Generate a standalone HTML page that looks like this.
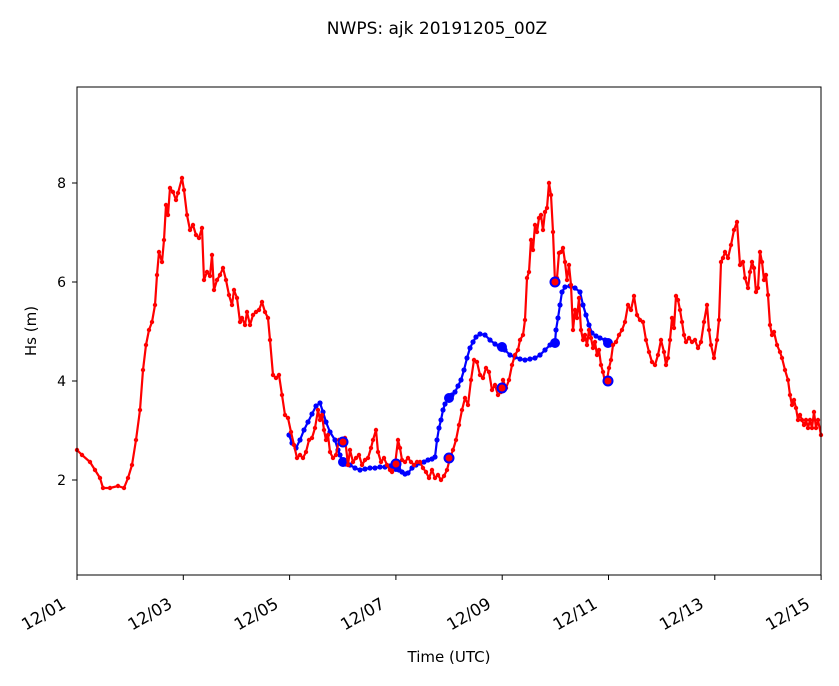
<!DOCTYPE html>
<html><head><meta charset="utf-8"><style>
body{margin:0;background:#fff;}
svg text{font-family:"DejaVu Sans","Liberation Sans",sans-serif;fill:#000}
</style></head><body>
<svg id="s" width="839" height="681" xmlns="http://www.w3.org/2000/svg">
<text x="437" y="34" font-size="17" text-anchor="middle">NWPS: ajk 20191205_00Z</text>
<g id="plot"></g>
<rect x="77" y="87" width="744" height="488" fill="none" stroke="#000" stroke-width="1"/>
<g font-size="14" text-anchor="end">
<text x="66" y="188">8</text><text x="66" y="287">6</text><text x="66" y="386">4</text><text x="66" y="485">2</text>
</g>
<g stroke="#000"><line x1="72" x2="77" y1="183" y2="183"/><line x1="72" x2="77" y1="282" y2="282"/><line x1="72" x2="77" y1="381" y2="381"/><line x1="72" x2="77" y1="480" y2="480"/></g>
<g id="xt" font-size="16.5" text-anchor="end"></g>
<text x="449" y="662" font-size="15" text-anchor="middle">Time (UTC)</text>
<text transform="translate(36,331) rotate(-90)" font-size="15" text-anchor="middle">Hs (m)</text>
</svg>
<script>
var NS="http://www.w3.org/2000/svg";
function el(t,a,p){var e=document.createElementNS(NS,t);for(var k in a)e.setAttribute(k,a[k]);p.appendChild(e);return e;}
var xt=document.getElementById("xt"),svg=document.getElementById("s");
var labs=["12/01","12/03","12/05","12/07","12/09","12/11","12/13","12/15"];
for(var i=0;i<8;i++){var x=77+i*106.3;el("line",{x1:x,x2:x,y1:575,y2:580,stroke:"#000"},svg);
var tx=x-10,ty=607;var t=el("text",{x:tx,y:ty,transform:"rotate(-30 "+tx+" "+ty+")"},xt);t.textContent=labs[i];}
var P=document.getElementById("plot");
var red=[[77,450],[82,455],[90,462],[95,470],[100,478],[103,488],[110,488],[118,486],[124,488],[128,478],[132,465],[136,440],[140,410],[143,370],[146,345],[149,330],[152,322],[155,305],[157,275],[159,252],[162,262],[164,240],[166,205],[168,215],[170,188],[173,192],[176,200],[178,193],[182,178],[184,190],[187,215],[190,230],[193,225],[196,235],[199,238],[202,228],[204,280],[207,272],[210,276],[212,255],[214,290],[217,280],[220,275],[223,268],[226,280],[229,295],[232,305],[234,290],[237,298],[240,322],[242,318],[245,325],[247,312],[250,325],[253,315],[256,312],[259,310],[262,302],[265,312],[268,318],[270,340],[273,375],[276,378],[279,375],[282,395],[285,415],[288,418],[291,432],[294,445],[297,458],[300,455],[303,458],[306,452],[309,440],[312,438],[315,428],[318,410],[320,420],[322,415],[324,430],[326,440],[328,435],[330,452],[333,458],[336,455],[339,440],[342,445],[345,438],[348,465],[350,450],[353,462],[356,458],[359,455],[362,465],[365,460],[368,458],[371,448],[373,440],[376,430],[378,452],[381,462],[384,458],[387,465],[390,470],[392,472],[395,465],[398,440],[400,448],[402,460],[405,462],[408,458],[411,462],[414,465],[417,462],[420,462],[423,468],[426,472],[429,478],[432,470],[435,478],[438,475],[441,480],[444,476],[447,470],[450,458],[453,450],[456,440],[459,425],[462,410],[465,398],[468,405],[471,380],[474,360],[477,362],[480,375],[483,378],[486,368],[489,372],[492,390],[495,385],[498,395],[501,392],[503,380],[506,388],[509,380],[512,365],[515,355],[518,350],[520,340],[523,335],[525,320],[527,278],[529,272],[531,240],[533,250],[535,225],[537,232],[539,218],[541,215],[543,230],[545,212],[547,208],[549,183],[551,195],[553,232],[555,282],[557,278],[559,253],[561,252],[563,248],[565,262],[567,280],[569,265],[571,285],[573,330],[575,310],[577,318],[579,298],[581,330],[583,340],[585,335],[587,345],[589,330],[591,338],[593,348],[595,342],[597,355],[599,350],[601,365],[603,372],[605,382],[607,380],[609,368],[611,360],[613,345],[616,342],[619,335],[622,330],[625,322],[628,305],[631,310],[634,296],[637,315],[640,320],[643,322],[646,340],[649,352],[652,362],[655,365],[658,355],[661,340],[664,352],[666,365],[668,358],[670,340],[672,318],[674,328],[676,296],[678,300],[680,310],[682,322],[684,335],[686,342],[689,338],[692,342],[695,340],[698,348],[701,342],[704,322],[707,305],[709,330],[711,345],[714,358],[717,340],[719,320],[721,262],[723,258],[725,252],[728,258],[731,245],[734,230],[737,222],[740,265],[743,262],[745,278],[748,288],[750,272],[752,262],[754,268],[756,292],[758,288],[760,252],[762,262],[764,280],[766,275],[768,295],[770,325],[772,335],[774,332],[777,345],[780,352],[782,358],[785,370],[788,380],[790,395],[792,405],[794,400],[796,408],[798,420],[800,415],[802,420],[804,425],[806,420],[808,428],[810,420],[812,428],[814,412],[816,428],[818,420],[821,435]];
var blue=[[289,435],[292,443],[296,448],[300,440],[304,430],[308,422],[312,414],[316,406],[320,403],[323,412],[326,422],[330,432],[335,440],[338,450],[340,455],[343,462],[346,464],[350,465],[355,468],[360,470],[365,469],[370,468],[375,468],[380,467],[385,467],[390,466],[396,467],[399,470],[402,472],[405,474],[408,473],[412,468],[416,465],[420,463],[424,462],[428,460],[432,459],[435,457],[437,440],[439,428],[441,420],[443,410],[445,404],[449,398],[452,395],[455,392],[458,386],[461,380],[464,370],[467,358],[470,348],[473,342],[476,337],[480,334],[485,335],[490,340],[495,344],[499,346],[502,347],[505,350],[510,355],[515,357],[520,359],[525,360],[530,359],[535,358],[540,355],[545,350],[550,345],[553,343],[555,343],[556,330],[558,318],[560,305],[562,292],[565,287],[570,286],[575,288],[580,292],[583,305],[586,315],[589,325],[592,333],[596,336],[600,338],[605,340],[609,343]];
function line(pts,c,r){el("polyline",{points:pts.map(p=>p.join(",")).join(" "),fill:"none",stroke:c,"stroke-width":2.2,"stroke-linejoin":"round"},P);
pts.forEach(p=>el("circle",{cx:p[0],cy:p[1],r:r,fill:c},P));}
line(blue,"#0000ff",2.6);
[[343,462],[396,467],[449,398],[502,347],[555,343],[608,343]].forEach(p=>el("circle",{cx:p[0],cy:p[1],r:5,fill:"#0000ff"},P));
line(red,"#ff0000",2.2);
[[343,442],[396,464],[449,458],[502,388],[555,282],[608,381]].forEach(p=>el("circle",{cx:p[0],cy:p[1],r:4.5,fill:"#ff0000",stroke:"#0000ff","stroke-width":2},P));
</script>
</body></html>
